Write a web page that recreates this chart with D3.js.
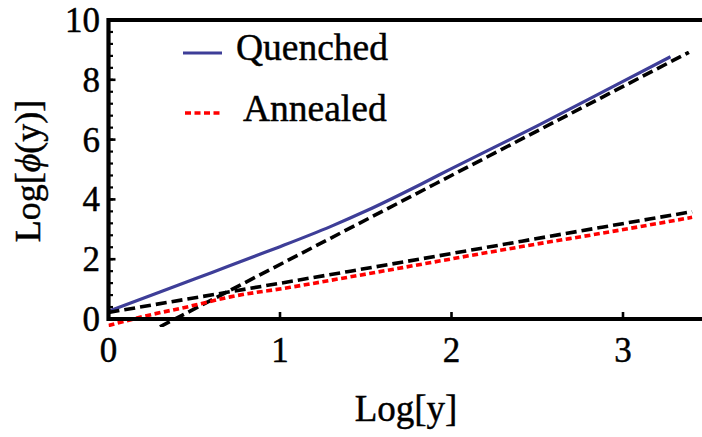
<!DOCTYPE html>
<html>
<head>
<meta charset="utf-8">
<script src="https://cdn.jsdelivr.net/npm/d3@7"></script>
<style>
  body { margin: 0; background: #fff; }
  svg { display: block; }
  text { stroke: #000; stroke-width: 0.45px; }
</style>
</head>
<body>
<svg id="chart" width="702" height="437"></svg>
<script>
// values: [Log y, Log phi(y)]
var quenched = [[0, 0.26], [0.3, 0.9], [0.6, 1.55], [0.886, 2.17], [1.0, 2.42], [1.294, 3.09],
                [1.5, 3.61], [1.819, 4.5], [2.0, 5.03], [2.5, 6.46], [3.0, 7.95], [3.277, 8.77]];
var annealed = [[0, -0.22], [0.2, 0.08], [0.478, 0.43], [0.71, 0.74], [1.06, 1.06], [1.41, 1.41],
                [2.5, 2.51], [2.878, 2.87], [3.403, 3.40]];
var steepAsym = [[0.3, -0.26], [1.294, 2.7], [3.384, 8.92]];
var shallowAsym = [[0, 0.22], [1.41, 1.6], [2.878, 3.07], [3.403, 3.59]];

var xTicks = [0, 1, 2, 3];
var yTicks = [0, 2, 4, 6, 8, 10];
var yMinor = d3.range(0, 10.01, 0.4);
var legendNames = ["Quenched", "Annealed"];

var serif = "'Liberation Serif', 'Times New Roman', Times, serif";
var svg = d3.select("#chart").attr("font-family", serif);

var x = d3.scaleLinear().domain([0, 3.47]).range([108.5, 703.6]);
var y = d3.scaleLinear().domain([0, 10]).range([319, 20]);

var line = d3.line()
    .x(function(d) { return x(d[0]); })
    .y(function(d) { return y(d[1]); })
    .curve(d3.curveMonotoneX);

svg.append("clipPath").attr("id", "clip")
  .append("rect")
    .attr("x", x(0)).attr("y", y(10))
    .attr("width", x(3.47) - x(0)).attr("height", y(-0.27) - y(10));

var plot = svg.append("g").attr("clip-path", "url(#clip)");

plot.append("path").datum(quenched)
    .attr("d", line).attr("fill", "none")
    .attr("stroke", "#3e3e98").attr("stroke-width", 3.2);

plot.append("path").datum(steepAsym)
    .attr("d", line).attr("fill", "none")
    .attr("stroke", "#000").attr("stroke-width", 3.6)
    .attr("stroke-dasharray", "11,5");

plot.append("path").datum(shallowAsym)
    .attr("d", line).attr("fill", "none")
    .attr("stroke", "#000").attr("stroke-width", 3.6)
    .attr("stroke-dasharray", "11,5");

plot.append("path").datum(annealed)
    .attr("d", line).attr("fill", "none")
    .attr("stroke", "#ff0000").attr("stroke-width", 3.6)
    .attr("stroke-dasharray", "6,3.5");

// axes: left line, bottom axis at y=0, top border
var axes = svg.append("g");
axes.append("line")
    .attr("x1", x(0)).attr("x2", x(0)).attr("y1", y(10) - 2).attr("y2", y(0) + 2)
    .attr("stroke", "#000").attr("stroke-width", 4.2);
axes.append("line")
    .attr("x1", x(0)).attr("x2", 702).attr("y1", y(0)).attr("y2", y(0))
    .attr("stroke", "#000").attr("stroke-width", 4.2);
axes.append("line")
    .attr("x1", x(0)).attr("x2", 702).attr("y1", y(10)).attr("y2", y(10))
    .attr("stroke", "#000").attr("stroke-width", 4);

// y ticks, inside
axes.selectAll(".ymin").data(yMinor).enter().append("line")
    .attr("x1", x(0)).attr("x2", x(0) + 4.5)
    .attr("y1", function(d) { return y(d); }).attr("y2", function(d) { return y(d); })
    .attr("stroke", "#000").attr("stroke-width", 2.2);
axes.selectAll(".ymaj").data(yTicks).enter().append("line")
    .attr("x1", x(0)).attr("x2", x(0) + 7)
    .attr("y1", function(d) { return y(d); }).attr("y2", function(d) { return y(d); })
    .attr("stroke", "#000").attr("stroke-width", 2.6);
axes.selectAll(".xmaj").data(xTicks.slice(1)).enter().append("line")
    .attr("x1", function(d) { return x(d); }).attr("x2", function(d) { return x(d); })
    .attr("y1", y(0)).attr("y2", y(0) - 7)
    .attr("stroke", "#000").attr("stroke-width", 2.6);

// tick labels
svg.selectAll(".ylab").data(yTicks).enter().append("text")
    .attr("x", 100).attr("y", function(d) { return y(d) + 12; })
    .attr("text-anchor", "end").attr("font-size", 35)
    .attr("font-family", serif)
    .text(function(d) { return d; });
svg.selectAll(".xlab").data(xTicks).enter().append("text")
    .attr("x", function(d) { return x(d); }).attr("y", 362)
    .attr("text-anchor", "middle").attr("font-size", 35)
    .attr("font-family", serif)
    .text(function(d) { return d; });

// axis titles
svg.append("text")
    .attr("x", 406).attr("y", 421)
    .attr("text-anchor", "middle").attr("font-size", 37)
    .attr("font-family", serif)
    .text("Log[y]");

var yt = svg.append("text")
    .attr("transform", "translate(40,171) rotate(-90)")
    .attr("text-anchor", "middle").attr("font-size", 36)
    .attr("font-family", serif);
yt.append("tspan").text("Log[");
yt.append("tspan").attr("font-style", "italic").text("ϕ");
yt.append("tspan").text("(y)]");

// legend
var leg = svg.append("g").attr("font-family", serif);
leg.append("line").attr("x1", 183).attr("x2", 222).attr("y1", 53).attr("y2", 53)
    .attr("stroke", "#3e3e98").attr("stroke-width", 3.2);
leg.append("text").attr("x", 236).attr("y", 60).attr("font-size", 37.5).text(legendNames[0]);
leg.append("line").attr("x1", 185).attr("x2", 222).attr("y1", 113).attr("y2", 113)
    .attr("stroke", "#ff0000").attr("stroke-width", 3.6).attr("stroke-dasharray", "6,3.5");
leg.append("text").attr("x", 243).attr("y", 121).attr("font-size", 37.5).text(legendNames[1]);
</script>
</body>
</html>
